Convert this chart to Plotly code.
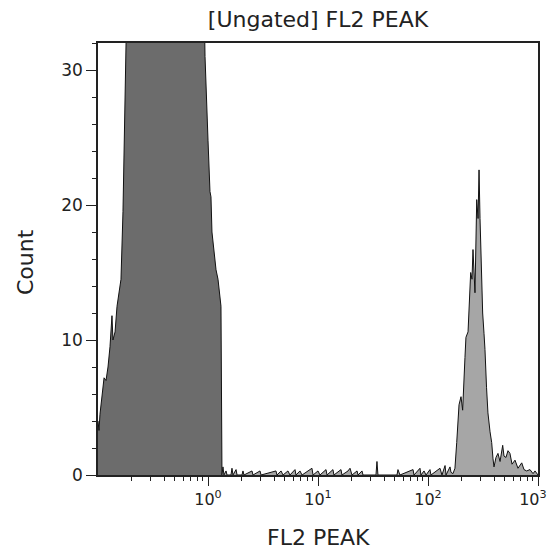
import numpy as np
import plotly.graph_objects as go

# ---- data (FL2 PEAK as log10 decades, and counts) ----
left_log = [-1.000, -0.991, -0.982, -0.964, -0.945, -0.927, -0.909, -0.891, -0.873, -0.864,
            -0.845, -0.827, -0.809, -0.791, -0.773, -0.755, -0.736, -0.709, -0.600, -0.436,
            -0.300, -0.164, -0.100, -0.045, -0.027, -0.009, 0.000, 0.018, 0.027, 0.036,
            0.055, 0.073, 0.091, 0.109, 0.118, 0.127]
left_count = [4.0, 3.3, 4.5, 6.0, 7.2, 7.0, 8.0, 9.5, 11.8, 10.0,
              10.6, 12.5, 13.6, 14.5, 19.5, 28.0, 38.0, 48.0, 55.0, 70.0,
              75.0, 60.0, 50.0, 40.0, 31.0, 26.0, 24.8, 21.0, 20.6, 18.0,
              16.5, 15.2, 14.5, 13.2, 12.5, 0.0]

right_log = [0.127, 0.136, 0.145, 0.164, 0.173, 0.209, 0.218, 0.227, 0.255, 0.264,
             0.309, 0.318, 0.327, 0.400, 0.409, 0.473, 0.482, 0.618, 0.627, 0.664,
             0.682, 0.727, 0.745, 0.791, 0.800, 0.836, 0.855, 0.945, 0.955, 1.000,
             1.018, 1.073, 1.082, 1.136, 1.145, 1.209, 1.218, 1.273, 1.291, 1.309,
             1.355, 1.364, 1.400, 1.409, 1.527, 1.536, 1.545, 1.718, 1.727, 1.745,
             1.864, 1.873, 1.927, 1.936, 1.964, 1.982, 2.018, 2.027, 2.109, 2.127,
             2.155, 2.164, 2.200, 2.209, 2.227, 2.245, 2.261, 2.282, 2.300, 2.315,
             2.336, 2.345, 2.364, 2.373, 2.388, 2.400, 2.409, 2.427, 2.443, 2.455,
             2.464, 2.473, 2.479, 2.497, 2.509, 2.518, 2.532, 2.545, 2.564, 2.579,
             2.591, 2.600, 2.618, 2.636, 2.655, 2.679, 2.691, 2.709, 2.727, 2.745,
             2.764, 2.791, 2.818, 2.852, 2.873, 2.897, 2.927, 2.955, 2.973, 3.000]
right_count = [0.0, 0.6, 0.0, 0.3, 0.0, 0.0, 0.5, 0.0, 0.4, 0.0,
               0.0, 0.3, 0.0, 0.3, 0.0, 0.3, 0.0, 0.3, 0.0, 0.3,
               0.0, 0.3, 0.0, 0.4, 0.0, 0.3, 0.0, 0.5, 0.0, 0.3,
               0.0, 0.4, 0.0, 0.4, 0.0, 0.4, 0.0, 0.3, 0.5, 0.0,
               0.3, 0.0, 0.3, 0.0, 0.0, 1.0, 0.0, 0.0, 0.4, 0.0,
               0.4, 0.0, 0.5, 0.0, 0.3, 0.0, 0.4, 0.0, 0.5, 0.0,
               0.7, 0.0, 0.6, 0.2, 0.1, 0.5, 2.4, 5.2, 5.8, 4.8,
               8.7, 10.2, 10.6, 12.0, 15.0, 14.5, 16.7, 13.5, 20.4, 19.0,
               22.6, 19.0, 16.7, 12.0, 10.5, 9.3, 6.5, 4.6, 3.2, 2.4,
               1.2, 0.6, 1.3, 1.6, 1.0, 2.2, 1.4, 1.3, 1.8, 1.6,
               0.8, 1.1, 0.5, 0.9, 0.4, 0.3, 0.4, 0.1, 0.3, 0.0]

x_tick_vals = [1, 10, 100, 1000]
x_tick_text = ["10<sup>0</sup>", "10<sup>1</sup>", "10<sup>2</sup>", "10<sup>3</sup>\u00a0\u00a0"]
y_tick_vals = [0, 10, 20, 30]

title_text = "[Ungated] FL2 PEAK"
x_title = "FL2 PEAK"
y_title = "Count"

FONT = "DejaVu Sans"
AX = "#222222"

left_x = np.power(10.0, left_log)
right_x = np.power(10.0, right_log)

fig = go.Figure()
fig.add_trace(go.Scatter(x=left_x, y=left_count, mode="lines", fill="tozeroy",
                         fillcolor="#6c6c6c", line=dict(color="#111111", width=1),
                         hoverinfo="skip", showlegend=False))
fig.add_trace(go.Scatter(x=right_x, y=right_count, mode="lines", fill="tozeroy",
                         fillcolor="#a6a6a6", line=dict(color="#111111", width=1),
                         hoverinfo="skip", showlegend=False))

minor_x = [m * 10.0 ** d for d in range(-1, 3) for m in range(2, 10)]

fig.update_layout(
    width=549, height=551, autosize=False,
    margin=dict(l=98, r=11, t=43, b=76),
    paper_bgcolor="white", plot_bgcolor="white",
    font=dict(family=FONT, color=AX),
    title=dict(text=title_text, x=0.5, xref="paper", y=1 - 19 / 551, yref="container",
               xanchor="center", yanchor="middle", font=dict(size=22, family=FONT, color="#222222")),
    xaxis=dict(type="log", range=[-1, 3], tickvals=x_tick_vals, ticktext=x_tick_text,
               ticks="outside", ticklen=9, tickwidth=1.2, tickcolor=AX,
               showline=True, linecolor=AX, linewidth=1.5, mirror=True,
               showgrid=False, zeroline=False, ticklabeloverflow="allow", automargin=False,
               tickfont=dict(size=16, family=FONT, color=AX),
               minor=dict(tickvals=minor_x, ticks="outside", ticklen=4, tickwidth=1, tickcolor=AX, showgrid=False)),
    yaxis=dict(range=[0, 32], tickvals=y_tick_vals, automargin=False,
               ticks="outside", ticklen=10, tickwidth=1.2, tickcolor=AX,
               showline=True, linecolor=AX, linewidth=1.5, mirror=True,
               showgrid=False, zeroline=False,
               tickfont=dict(size=17, family=FONT, color=AX),
               minor=dict(dtick=2, ticks="outside", ticklen=4, tickwidth=1, tickcolor=AX, showgrid=False)),
    annotations=[
        dict(text=y_title, xref="paper", yref="paper", x=(25 - 98) / 440, y=(475 - 262) / 432,
             textangle=-90, showarrow=False, xanchor="center", yanchor="middle",
             font=dict(size=22, family=FONT, color="#222222")),
        dict(text=x_title, xref="paper", yref="paper", x=(318 - 98) / 440, y=(475 - 537) / 432,
             showarrow=False, xanchor="center", yanchor="middle",
             font=dict(size=22, family=FONT, color="#222222")),
    ],
)

fig.write_html("out.html", config={"responsive": False, "displayModeBar": False},
               post_script="document.body.style.margin='0';document.body.style.padding='0';"
                           "document.body.style.overflow='hidden';"
                           "document.documentElement.style.overflow='hidden';")
